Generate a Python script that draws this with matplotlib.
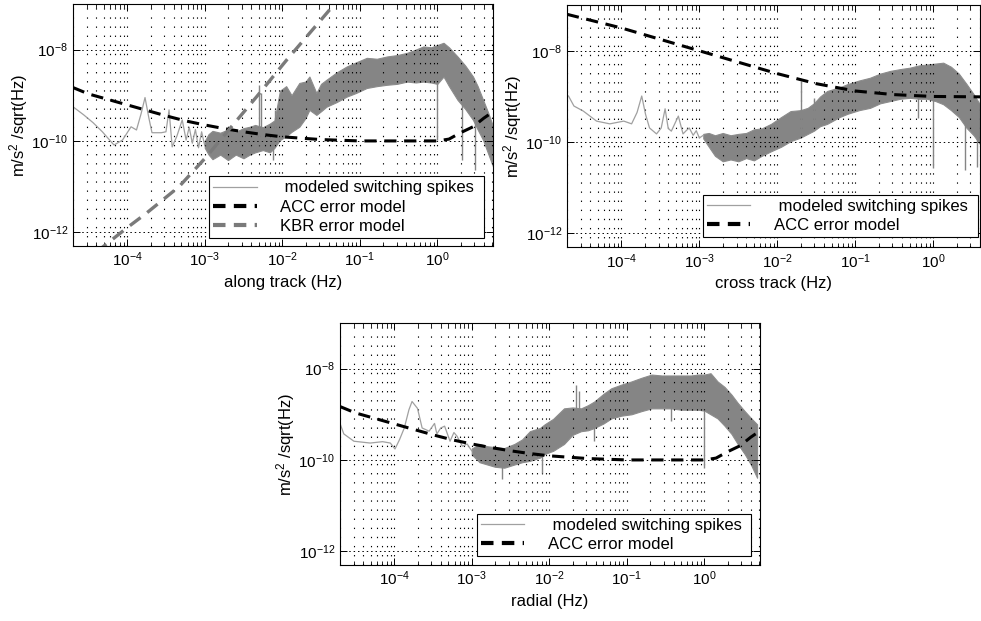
import numpy as np
import matplotlib.pyplot as plt
from matplotlib.lines import Line2D
from matplotlib.ticker import LogLocator, NullFormatter

plt.rcParams['font.family'] = ['Liberation Sans', 'DejaVu Sans']
plt.rcParams['mathtext.fontset'] = 'custom'
plt.rcParams['mathtext.rm'] = 'Liberation Sans'
plt.rcParams['mathtext.it'] = 'Liberation Sans:italic'

# all values as log10(frequency), log10(m/s^2/sqrt(Hz))

# --- along track ---
along_thin_f = [-4.70, -4.56, -4.44, -4.32, -4.17, -4.06, -3.95, -3.88, -3.82, -3.77, -3.72,
                -3.68, -3.56, -3.50, -3.46, -3.42, -3.36, -3.29, -3.24, -3.20, -3.16, -3.12,
                -3.08, -3.04, -3.00]
along_thin_a = [-9.25, -9.43, -9.60, -9.80, -10.09, -9.98, -9.69, -9.76, -9.40, -9.05, -9.50,
                -9.82, -9.82, -9.80, -9.32, -10.13, -9.90, -9.54, -9.98, -9.70, -10.05, -9.75,
                -10.15, -9.80, -10.10]
along_band_f = [-3.00, -2.95, -2.90, -2.80, -2.70, -2.60, -2.50, -2.42, -2.35, -2.25, -2.16, -2.10,
                -2.03, -1.95, -1.88, -1.78, -1.70, -1.65, -1.56, -1.50, -1.43, -1.30, -1.17,
                -1.05, -0.91, -0.78, -0.65, -0.52, -0.39, -0.28, -0.18, -0.08, 0.00, 0.08,
                0.15, 0.26, 0.36, 0.46, 0.52, 0.59, 0.66, 0.72]
along_band_hi = [-10.00, -9.85, -9.78, -9.82, -9.75, -9.80, -9.72, -9.69, -9.65, -9.70, -9.62, -9.55,
                 -8.90, -8.80, -9.00, -8.73, -8.70, -8.59, -8.95, -8.75, -8.66, -8.50, -8.37,
                 -8.28, -8.18, -8.20, -8.15, -8.12, -8.07, -8.00, -7.93, -7.95, -7.90, -7.85,
                 -7.95, -8.15, -8.35, -8.59, -8.80, -9.10, -9.40, -9.69]
along_band_lo = [-10.15, -10.30, -10.40, -10.30, -10.42, -10.30, -10.38, -10.30, -10.25, -10.20, -10.25, -10.15,
                 -9.98, -9.90, -9.80, -9.69, -9.50, -9.32, -9.43, -9.35, -9.25, -9.15, -9.03,
                 -8.95, -8.84, -8.80, -8.77, -8.75, -8.70, -8.72, -8.70, -8.72, -8.75, -8.59,
                 -8.80, -9.10, -9.30, -9.54, -9.75, -9.98, -10.30, -10.57]
along_spike_f = [-2.30, -2.27, -2.12, -2.10, -2.06, 0.00, 0.32, 0.49]
along_spike_lo = [-10.10, -10.00, -10.42, -10.00, -9.90, -9.98, -10.42, -10.64]
along_spike_hi = [-8.77, -8.95, -9.60, -9.32, -9.40, -8.70, -9.20, -9.50]

# --- cross track ---
cross_thin_f = [-4.68, -4.61, -4.49, -4.32, -4.15, -3.97, -3.87, -3.80, -3.74, -3.69, -3.64,
                -3.55, -3.49, -3.44, -3.40, -3.36, -3.27, -3.21, -3.17, -3.13, -3.08, -3.04,
                -3.00, -2.95]
cross_thin_a = [-8.99, -9.21, -9.32, -9.54, -9.60, -9.54, -9.60, -9.35, -8.99, -9.40, -9.69,
                -9.82, -9.69, -9.27, -9.70, -9.76, -9.43, -9.82, -9.75, -9.69, -9.85, -9.75,
                -9.91, -9.85]
cross_band_f = [-2.95, -2.88, -2.80, -2.70, -2.60, -2.50, -2.40, -2.30, -2.20, -2.08, -1.95,
                -1.83, -1.70, -1.61, -1.53, -1.45, -1.36, -1.20, -1.10, -0.95, -0.81, -0.68,
                -0.55, -0.42, -0.30, -0.18, -0.08, 0.03, 0.13, 0.23, 0.33, 0.43, 0.52, 0.60]
cross_band_hi = [-9.82, -9.80, -9.85, -9.80, -9.85, -9.82, -9.80, -9.72, -9.70, -9.60, -9.45,
                 -9.32, -9.30, -9.25, -9.15, -9.00, -8.88, -8.80, -8.73, -8.65, -8.59, -8.50,
                 -8.44, -8.40, -8.37, -8.32, -8.30, -8.28, -8.26, -8.35, -8.50, -8.73, -8.95, -9.17]
cross_band_lo = [-9.92, -10.10, -10.30, -10.42, -10.38, -10.42, -10.35, -10.40, -10.30, -10.20, -10.10,
                 -9.98, -9.90, -9.82, -9.75, -9.65, -9.60, -9.45, -9.38, -9.30, -9.25, -9.15,
                 -9.10, -9.05, -9.03, -9.05, -9.05, -9.10, -9.17, -9.30, -9.45, -9.69, -9.85, -10.04]
cross_spike_f = [-1.70, -1.53, -0.19, 0.00, 0.41, 0.56]
cross_spike_lo = [-9.80, -9.60, -9.47, -10.57, -10.60, -10.55]
cross_spike_hi = [-8.66, -9.03, -9.00, -9.00, -9.20, -9.60]

# --- radial ---
radial_thin_f = [-4.71, -4.65, -4.52, -4.31, -4.15, -4.05, -3.99, -3.93, -3.87, -3.81, -3.77,
                 -3.70, -3.64, -3.55, -3.48, -3.45, -3.40, -3.35, -3.28, -3.23, -3.19, -3.12,
                 -3.06, -3.00]
radial_thin_a = [-9.15, -9.43, -9.59, -9.63, -9.60, -9.63, -9.76, -9.55, -9.30, -8.90, -8.72,
                 -8.87, -9.30, -9.37, -9.20, -9.43, -9.30, -9.26, -9.59, -9.40, -9.48, -9.70,
                 -9.65, -9.80]
radial_band_f = [-3.00, -2.90, -2.80, -2.70, -2.58, -2.45, -2.35, -2.25, -2.12, -2.06, -1.95,
                 -1.81, -1.70, -1.59, -1.50, -1.42, -1.30, -1.20, -1.07, -0.94, -0.81, -0.68,
                 -0.55, -0.43, -0.30, -0.17, -0.08, 0.00, 0.08, 0.17, 0.26, 0.35, 0.43, 0.52,
                 0.60, 0.68]
radial_band_hi = [-9.75, -9.65, -9.70, -9.72, -9.74, -9.65, -9.55, -9.37, -9.30, -9.22, -9.10,
                  -8.87, -8.85, -8.87, -8.80, -8.72, -8.55, -8.43, -8.35, -8.28, -8.20, -8.13,
                  -8.15, -8.15, -8.15, -8.15, -8.13, -8.13, -8.10, -8.28, -8.40, -8.57, -8.75,
                  -8.93, -9.08, -9.22]
radial_band_lo = [-9.88, -10.05, -10.10, -10.15, -10.17, -10.10, -10.05, -10.02, -9.95, -9.87, -9.80,
                  -9.65, -9.45, -9.37, -9.35, -9.30, -9.20, -9.09, -9.03, -9.00, -8.93, -8.87,
                  -8.87, -8.87, -8.90, -8.90, -8.90, -8.92, -9.00, -9.09, -9.25, -9.43, -9.65,
                  -9.87, -10.10, -10.39]
radial_spike_f = [-2.61, -2.09, -1.65, -1.62, -1.42, -0.43, 0.00]
radial_spike_lo = [-10.41, -10.28, -9.30, -9.20, -9.59, -9.15, -10.17]
radial_spike_hi = [-9.90, -9.80, -8.35, -8.50, -9.00, -8.80, -8.90]

# --- error models ---
acc_f = [-4.70, -4.50, -4.25, -4.00, -3.75, -3.50, -3.25, -3.00, -2.75, -2.50, -2.25, -2.00,
         -1.75, -1.50, -1.00, -0.50, 0.00, 0.15, 0.30, 0.46, 0.60, 0.72]
acc_a = [-8.83, -8.97, -9.09, -9.21, -9.33, -9.45, -9.56, -9.65, -9.73, -9.80, -9.86, -9.91,
         -9.94, -9.97, -10.00, -10.00, -10.00, -9.96, -9.82, -9.69, -9.50, -9.36]
cross_acc_f = [-4.70, -4.00, -3.50, -3.00, -2.50, -2.00, -1.50, -1.00, -0.50, 0.00, 0.70]
cross_acc_a = [-7.20, -7.50, -7.75, -8.00, -8.25, -8.50, -8.72, -8.88, -8.96, -9.00, -9.01]
kbr_f = [-4.40, -4.32, -4.00, -3.75, -3.33, -2.98, -2.72, -2.33, -1.94, -1.35, -1.20]
kbr_a = [-12.45, -12.33, -11.90, -11.58, -11.00, -10.35, -9.82, -9.03, -8.22, -7.05, -6.75]


def p(v):
    return 10.0 ** np.asarray(v, dtype=float)


def panel(ax, thin_f, thin_a, band_f, band_hi, band_lo, sp_f, sp_lo, sp_hi,
          mf, ma, xlabel, xmax, legend_box, kbr=False):
    spec_c = '#858585'
    ax.plot(p(thin_f), p(thin_a), color='#a0a0a0', lw=0.9)
    ax.fill_between(p(band_f), p(band_lo), p(band_hi), color=spec_c, lw=0.8, edgecolor='#8c8c8c')
    ax.vlines(p(sp_f), p(sp_lo), p(sp_hi), color=spec_c, lw=1.0)
    ax.plot(p(mf), p(ma), color='k', lw=2.2, dashes=(4, 2.5))
    if kbr:
        ax.plot(p(kbr_f), p(kbr_a), color='#7a7a7a', lw=2.4, dashes=(4, 2.5))

    ax.set_xscale('log')
    ax.set_yscale('log')
    ax.set_xlim(2e-5, xmax)
    ax.set_ylim(5e-13, 1e-7)
    ax.set_yticks([1e-12, 1e-10, 1e-8])
    ax.yaxis.set_minor_locator(plt.NullLocator())
    ax.xaxis.set_major_locator(LogLocator(base=10, numticks=12))
    ax.xaxis.set_minor_locator(LogLocator(base=10, subs=np.arange(2, 10), numticks=12))
    ax.xaxis.set_minor_formatter(NullFormatter())
    ax.tick_params(which='both', direction='in', top=True, right=True, labelsize=11)
    ax.tick_params(which='major', length=5, width=0.7)
    ax.tick_params(which='minor', length=3, width=0.6)
    ax.grid(True, which='both', axis='x', color='k', lw=0.8, linestyle=(0, (1.2, 7)))
    ax.grid(True, which='major', axis='y', color='k', lw=0.7, linestyle=(0, (1.5, 3)))
    for s in ax.spines.values():
        s.set_linewidth(0.8)
    ax.set_xlabel(xlabel, fontsize=12)
    ax.set_ylabel(r'm/s$^{\mathregular{2}}$ /sqrt(Hz)', fontsize=12, labelpad=1)

    handles = [Line2D([], [], color='#a0a0a0', lw=0.9),
               Line2D([], [], color='k', lw=3, dashes=(3, 2))]
    labels = [' modeled switching spikes', 'ACC error model']
    if kbr:
        handles.append(Line2D([], [], color='#7a7a7a', lw=3, dashes=(3, 2)))
        labels.append('KBR error model')
    leg = ax.legend(handles, labels, loc='lower left', bbox_to_anchor=legend_box, mode='expand',
                    fontsize=12, fancybox=False, edgecolor='k', framealpha=1,
                    handlelength=2.6, borderpad=0.25, labelspacing=0.25, handletextpad=1.4,
                    borderaxespad=0)
    leg.get_frame().set_linewidth(0.8)


fig = plt.figure(figsize=(9.81, 6.21), dpi=100)
ax1 = fig.add_axes([0.0744, 0.6039, 0.428, 0.3897])
ax2 = fig.add_axes([0.578, 0.602, 0.421, 0.3897])
ax3 = fig.add_axes([0.3466, 0.0902, 0.428, 0.3897])

panel(ax1, along_thin_f, along_thin_a, along_band_f, along_band_hi, along_band_lo,
      along_spike_f, along_spike_lo, along_spike_hi, acc_f, acc_a,
      'along track (Hz)', 5.2, (0.324, 0.033, 0.655, 0.29), kbr=True)
panel(ax2, cross_thin_f, cross_thin_a, cross_band_f, cross_band_hi, cross_band_lo,
      cross_spike_f, cross_spike_lo, cross_spike_hi, cross_acc_f, cross_acc_a,
      'cross track (Hz)', 4.0, (0.329, 0.041, 0.666, 0.19))
panel(ax3, radial_thin_f, radial_thin_a, radial_band_f, radial_band_hi, radial_band_lo,
      radial_spike_f, radial_spike_lo, radial_spike_hi, acc_f, acc_a,
      'radial (Hz)', 5.2, (0.326, 0.037, 0.653, 0.19))

fig.savefig('out.png', dpi=100)
